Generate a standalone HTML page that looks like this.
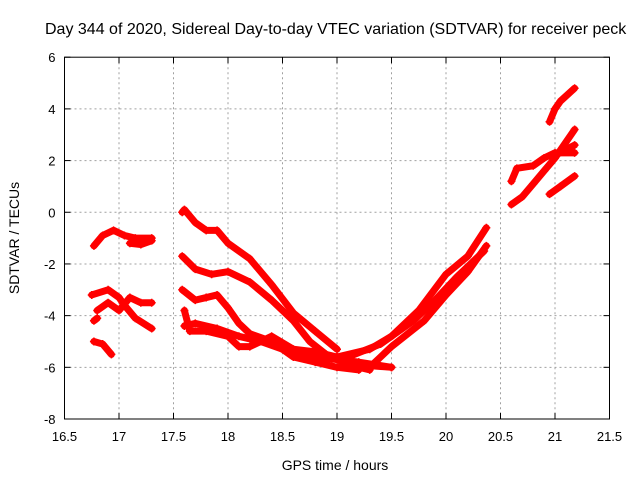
<!DOCTYPE html>
<html><head><meta charset="utf-8"><style>
body{margin:0;background:#fff}
text{font-family:"Liberation Sans",sans-serif;fill:#000}
</style></head><body>
<svg id="chart" width="640" height="480" xmlns="http://www.w3.org/2000/svg">
<rect width="640" height="480" fill="#fff"/>
<text x="45" y="34" font-size="16" style="white-space:pre">Day 344 of 2020, Sidereal Day-to-day VTEC variation (SDTVAR) for receiver peck</text>
<g id="grid"></g><g id="axes"></g><g id="series"></g>
<text x="335" y="470" font-size="14" text-anchor="middle">GPS time / hours</text>
<text transform="translate(19,238) rotate(-90)" font-size="14" text-anchor="middle">SDTVAR / TECUs</text>
</svg>
<script>
const xTicks=[16.5,17,17.5,18,18.5,19,19.5,20,20.5,21,21.5];
const yTicks=[-8,-6,-4,-2,0,2,4,6];
const trackA=[[16.77,-1.3],[16.85,-0.9],[16.95,-0.7],[17.05,-0.9],[17.15,-1.0],[17.3,-1.0]];
const trackA2=[[17.1,-1.2],[17.2,-1.25],[17.3,-1.1]];
const trackB=[[16.75,-3.2],[16.9,-3.0],[17.0,-3.3],[17.05,-3.6],[17.15,-4.1],[17.3,-4.5]];
const trackC=[[16.8,-3.8],[16.9,-3.5],[17.0,-3.8],[17.1,-3.3],[17.2,-3.5],[17.3,-3.5]];
const trackD=[[16.77,-4.2],[16.8,-4.1]];
const trackE=[[16.77,-5.0],[16.85,-5.1],[16.93,-5.5]];
const trackF=[[17.58,0.0],[17.6,0.1],[17.7,-0.4],[17.8,-0.7],[17.9,-0.7],[18.0,-1.2],[18.2,-1.8],[18.4,-2.8],[18.6,-3.9],[18.8,-4.6],[19.0,-5.3]];
const trackG=[[17.58,-1.7],[17.7,-2.2],[17.85,-2.4],[18.0,-2.3],[18.2,-2.7],[18.4,-3.4],[18.6,-4.2],[18.75,-5.0],[18.9,-5.5],[19.1,-5.9],[19.3,-6.1]];
const trackH=[[17.58,-3.0],[17.7,-3.4],[17.8,-3.3],[17.9,-3.2],[18.0,-3.7],[18.1,-4.3],[18.2,-4.7],[18.4,-5.0],[18.6,-5.6],[18.8,-5.8],[19.0,-6.0],[19.2,-6.1]];
const trackI=[[17.6,-3.8],[17.65,-4.6],[17.8,-4.6],[18.0,-4.8],[18.1,-5.2],[18.2,-5.2],[18.4,-4.8],[18.6,-5.3],[18.8,-5.4],[19.0,-5.6],[19.2,-5.9],[19.5,-6.0]];
const trackJ=[[17.6,-4.4],[17.7,-4.3],[17.9,-4.5],[18.1,-4.8],[18.3,-5.0],[18.5,-5.3],[18.8,-5.6],[19.2,-5.8],[19.5,-6.0]];
const trackK=[[19.0,-5.6],[19.3,-5.3],[19.5,-4.8],[19.75,-3.8],[20.0,-2.4],[20.2,-1.7],[20.37,-0.6]];
const trackL=[[19.3,-6.0],[19.5,-5.2],[19.8,-4.2],[20.0,-3.2],[20.2,-2.3],[20.37,-1.3]];
const trackM=[[19.1,-5.6],[19.4,-5.1],[19.7,-4.2],[19.9,-3.4],[20.1,-2.5],[20.35,-1.5]];
const trackN=[[20.95,3.5],[21.0,4.0],[21.05,4.3],[21.18,4.8]];
const trackO=[[20.6,1.2],[20.65,1.7],[20.8,1.8],[20.9,2.1],[21.0,2.3],[21.18,2.3]];
const trackP=[[20.6,0.3],[20.7,0.6],[20.8,1.1],[20.9,1.6],[21.0,2.1],[21.18,3.2]];
const trackQ=[[20.95,0.7],[21.05,1.0],[21.18,1.4]];
const trackR=[[21.0,2.2],[21.18,2.6]];
const tracks=[trackA,trackA2,trackB,trackC,trackD,trackE,trackF,trackG,trackH,trackI,trackJ,trackK,trackL,trackM,trackN,trackO,trackP,trackQ,trackR];

const X0=64.5,X1=609.5,Y0=419,Y1=57.2;
const xs=v=>X0+(v-16.5)/(21.5-16.5)*(X1-X0);
const ys=v=>Y0-(v+8)/(6+8)*(Y0-Y1);
const NS='http://www.w3.org/2000/svg';
function mk(tag,attrs,parent){const e=document.createElementNS(NS,tag);for(const k in attrs)e.setAttribute(k,attrs[k]);parent.appendChild(e);return e;}
const grid=document.getElementById('grid'),axes=document.getElementById('axes'),series=document.getElementById('series');
xTicks.forEach(t=>{
  const x=xs(t);
  if(t>16.5&&t<21.5){const g=mk('line',{x1:x,x2:x,y1:Y1,y2:Y0,stroke:'#a0a0a0','stroke-dasharray':'2,3'},grid);
  
  }
  mk('line',{x1:x,x2:x,y1:Y0,y2:Y0-6,stroke:'#000'},axes);
  mk('line',{x1:x,x2:x,y1:Y1,y2:Y1+6,stroke:'#000'},axes);
  const l=mk('text',{x:x,y:Y0+22,'font-size':13,'text-anchor':'middle'},axes);l.textContent=t;
  
  
});
yTicks.forEach(t=>{
  const y=ys(t);
  if(t>-8&&t<6){const g=mk('line',{x1:X0,x2:X1,y1:y,y2:y,stroke:'#a0a0a0','stroke-dasharray':'2,3'},grid);
  
  }
  mk('line',{x1:X0,x2:X0+6,y1:y,y2:y,stroke:'#000'},axes);
  mk('line',{x1:X1,x2:X1-6,y1:y,y2:y,stroke:'#000'},axes);
  const l=mk('text',{x:X0-9,y:y+5,'font-size':13,'text-anchor':'end'},axes);l.textContent=t;
  
  
});
const frame=mk('rect',{x:X0,y:Y1,width:X1-X0,height:Y0-Y1,fill:'none',stroke:'#000'},axes);


tracks.forEach(tr=>{
  const pl=mk('polyline',{points:tr.map(p=>xs(p[0])+','+ys(p[1])).join(' '),fill:'none',stroke:'#f00','stroke-width':7,'stroke-linejoin':'round','stroke-linecap':'round'},series);
  
  
  tr.forEach(p=>{
    const x=xs(p[0]),y=ys(p[1]);
    const m=mk('path',{d:`M${x-4},${y}H${x+4}M${x},${y-4}V${y+4}`,stroke:'#f00','stroke-width':1.5},series);
    
    
  });
});
</script>
</body></html>
